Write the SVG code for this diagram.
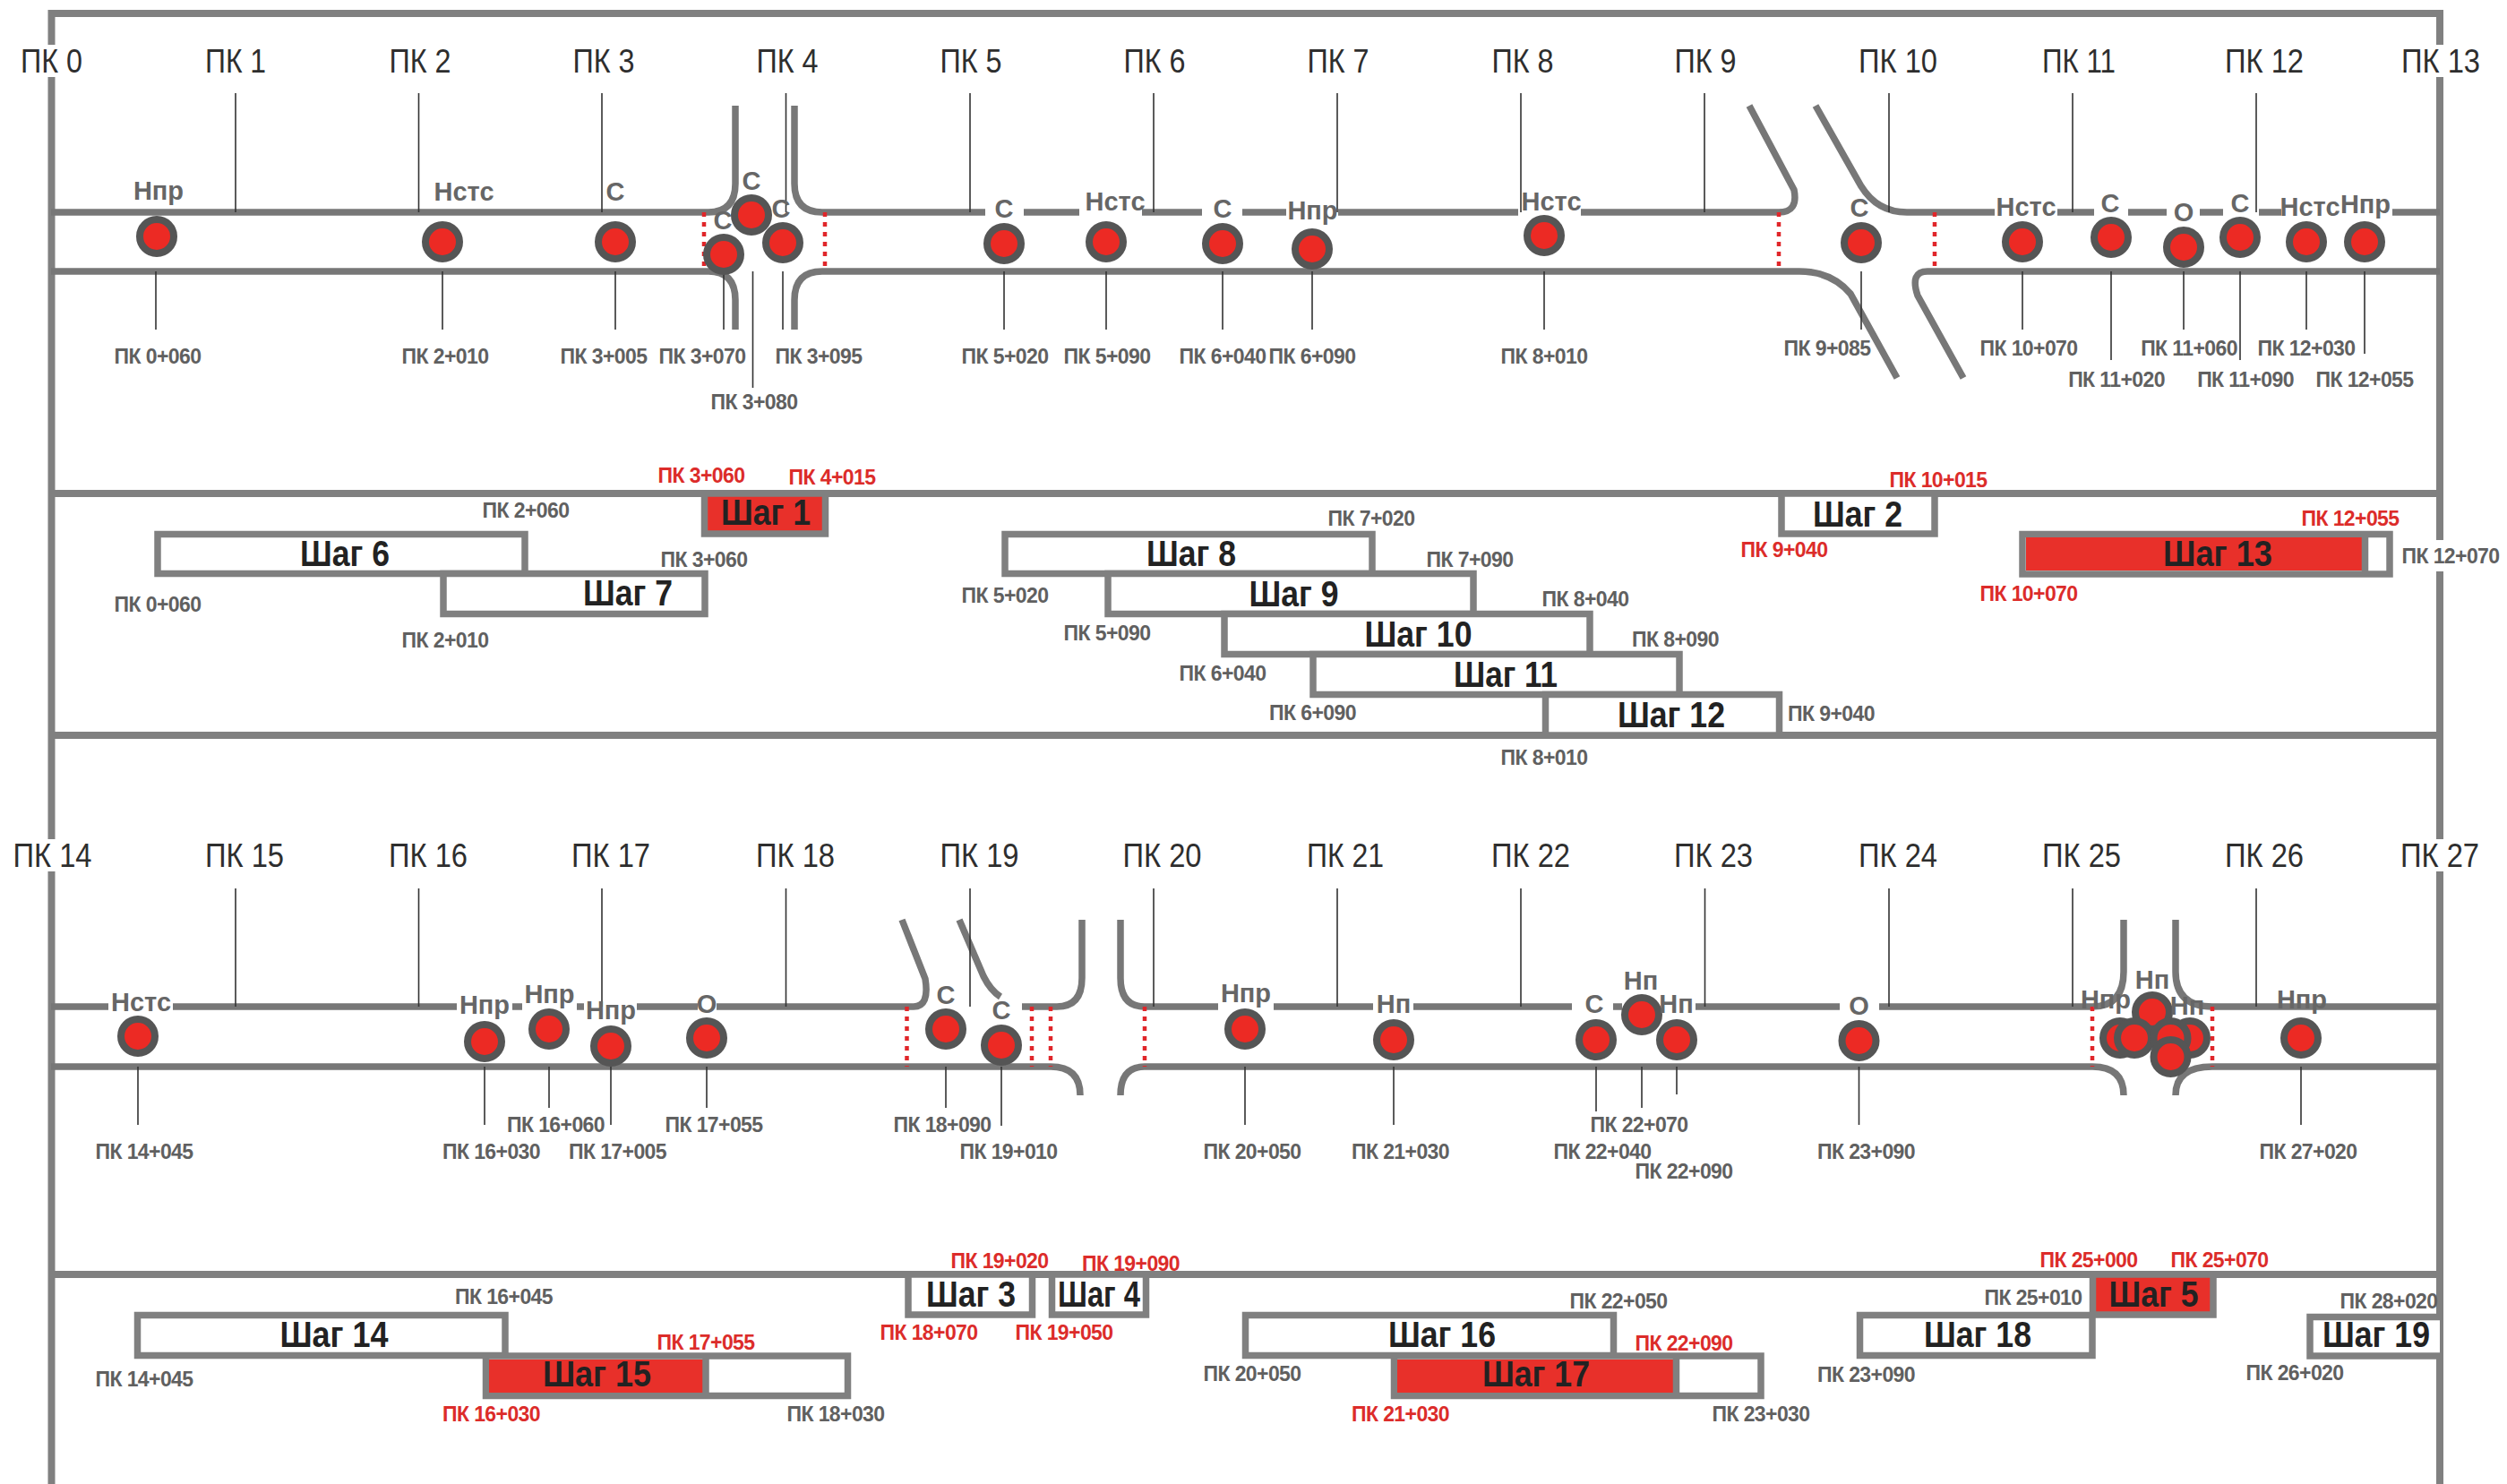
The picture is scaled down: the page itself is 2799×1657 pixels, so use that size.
<svg xmlns="http://www.w3.org/2000/svg" width="2799" height="1657" viewBox="0 0 2799 1657">
<style>
text{font-family:"Liberation Sans",Arial,sans-serif;text-anchor:middle}
.pk{font-size:36px;fill:#2e2e2e}
.sm{font-size:23px;letter-spacing:-.6px;font-weight:700;fill:#606060}
.re{font-size:23px;letter-spacing:-.6px;font-weight:700;fill:#dc2c2a}
.la{font-size:29px;font-weight:700;fill:#666}
.st{font-size:40px;font-weight:700;fill:#222}
.road{fill:none;stroke:#777;stroke-width:7.5}
.frame{fill:none;stroke:#808080;stroke-width:8}
.tick{stroke:#333;stroke-width:1.6;fill:none}
.dash{stroke:#e0262a;stroke-width:4.5;stroke-dasharray:5 6;fill:none}
.dot{fill:#ec2a24;stroke:#555;stroke-width:8}
.box{fill:#fff;stroke:#808080;stroke-width:7.5}
.red{fill:#e8302a;stroke:#808080;stroke-width:7.5}
.rf{fill:#e8302a}
.div{stroke:#808080;stroke-width:7.5}
</style>
<rect width="2799" height="1657" fill="#fff"/>
<g id="frame">
<path class="frame" d="M57.5 50V15H2724V50M57.5 86V937M57.5 973V1657M2724 86V603M2724 638V937M2724 973V1657M57 551H2724M57 821H2724M57 1423H2724"/>
</g>
<g id="connectors">
<g id="roads">
<path class="road" d="M57 237H791Q821 237 821 205V118M887 118V205Q887 237 918 237H1100M1143 237H1205M1275 237H1342M1387 237H1436M1494 237H1695M1765 237H1986Q2008 237 2003 212L1953 118M2027 118L2078 208Q2096 237 2129 237H2227M2297 237H2338M2376 237H2419M2456 237H2482M2522 237H2547M2671 237H2724"/>
<path class="road" d="M57 303H791Q821 303 821 335V368M887 368V335Q887 303 918 303H2009Q2045 303 2066 328L2118 422M2192 422L2141 330Q2132 303 2152 303H2724"/>
<path class="road" d="M57 1124H121M193 1124H510M572 1124H583M644 1124H652M711 1124H779M800 1124H1020Q1038 1124 1033 1093L1007 1027M1071 1027L1098 1090Q1106 1106 1117 1113M1141 1124H1180Q1208 1124 1208 1092V1027M1251 1027V1092Q1251 1124 1278 1124H1360M1422 1124H1533M1578 1124H1755M1801 1124H1811M1893 1124H2054M2098 1124H2336Q2371 1124 2371 1085V1027M2429 1027V1085Q2429 1124 2470 1124H2724"/>
<path class="road" d="M57 1191H1173Q1206 1191 1206 1223M1251 1223Q1251 1191 1278 1191H2336Q2371 1191 2371 1223M2429 1223Q2429 1191 2470 1191H2724"/>
</g>
<g id="ticks">
<path class="tick" d="M263 104V237M467.500 104V237M672 104V237M877.500 104V237M1083 104V237M1288 104V237M1493 104V237M1698 104V237M1903 104V237M2109 104V237M2314 104V237M2519 104V237"/>
<path class="tick" d="M263 992V1124M467.500 992V1124M672 992V1124M877.500 992V1124M1083 992V1124M1288 992V1124M1493 992V1124M1698 992V1124M1903.500 992V1124M2109 992V1124M2314 992V1124M2519 992V1124"/>
<path class="tick" d="M174 303V368M494 303V368M687 303V368M808 303V368M840.500 303V433M874 303V368M1121 303V368M1235 303V368M1365 303V368M1465 303V368M1724 303V368M2078 303V368M2258 303V368M2357 303V402M2438 303V368M2501 303V402M2575 303V368M2640 303V395"/>
<path class="tick" d="M154 1191V1256M541 1191V1256M613 1191V1237M682 1191V1256M789 1191V1237M1056 1191V1237M1118 1191V1257M1390 1191V1256M1556 1191V1256M1782 1191V1241M1833 1191V1237M1872 1191V1222M2075.500 1191V1256M2569 1191V1256"/>
</g>
<g id="limits">
<path class="dash" d="M786 237V303M921 237V303M1986 237V303M2160 237V303M1012.500 1124V1191M1152 1124V1191M1173 1124V1191M1278 1124V1191M2336 1124V1191M2470 1124V1191"/>
</g>
</g>
<g id="pk-labels" class="pk">
<text class="pk" x="57.500" y="81" textLength="69" lengthAdjust="spacingAndGlyphs">ПК 0</text>
<text class="pk" x="263" y="81" textLength="68" lengthAdjust="spacingAndGlyphs">ПК 1</text>
<text class="pk" x="469" y="81" textLength="69" lengthAdjust="spacingAndGlyphs">ПК 2</text>
<text class="pk" x="674" y="81" textLength="69" lengthAdjust="spacingAndGlyphs">ПК 3</text>
<text class="pk" x="879" y="81" textLength="69" lengthAdjust="spacingAndGlyphs">ПК 4</text>
<text class="pk" x="1084" y="81" textLength="69" lengthAdjust="spacingAndGlyphs">ПК 5</text>
<text class="pk" x="1289" y="81" textLength="69" lengthAdjust="spacingAndGlyphs">ПК 6</text>
<text class="pk" x="1494" y="81" textLength="69" lengthAdjust="spacingAndGlyphs">ПК 7</text>
<text class="pk" x="1700" y="81" textLength="69" lengthAdjust="spacingAndGlyphs">ПК 8</text>
<text class="pk" x="1904" y="81" textLength="69" lengthAdjust="spacingAndGlyphs">ПК 9</text>
<text class="pk" x="2119" y="81" textLength="88" lengthAdjust="spacingAndGlyphs">ПК 10</text>
<text class="pk" x="2321" y="81" textLength="82" lengthAdjust="spacingAndGlyphs">ПК 11</text>
<text class="pk" x="2528" y="81" textLength="88" lengthAdjust="spacingAndGlyphs">ПК 12</text>
<text class="pk" x="2725" y="81" textLength="88" lengthAdjust="spacingAndGlyphs">ПК 13</text>
<text class="pk" x="58.500" y="968" textLength="88" lengthAdjust="spacingAndGlyphs">ПК 14</text>
<text class="pk" x="273" y="968" textLength="88" lengthAdjust="spacingAndGlyphs">ПК 15</text>
<text class="pk" x="478" y="968" textLength="88" lengthAdjust="spacingAndGlyphs">ПК 16</text>
<text class="pk" x="682" y="968" textLength="88" lengthAdjust="spacingAndGlyphs">ПК 17</text>
<text class="pk" x="888" y="968" textLength="88" lengthAdjust="spacingAndGlyphs">ПК 18</text>
<text class="pk" x="1093.500" y="968" textLength="88" lengthAdjust="spacingAndGlyphs">ПК 19</text>
<text class="pk" x="1297.500" y="968" textLength="88" lengthAdjust="spacingAndGlyphs">ПК 20</text>
<text class="pk" x="1502" y="968" textLength="86" lengthAdjust="spacingAndGlyphs">ПК 21</text>
<text class="pk" x="1709" y="968" textLength="88" lengthAdjust="spacingAndGlyphs">ПК 22</text>
<text class="pk" x="1913" y="968" textLength="88" lengthAdjust="spacingAndGlyphs">ПК 23</text>
<text class="pk" x="2119" y="968" textLength="88" lengthAdjust="spacingAndGlyphs">ПК 24</text>
<text class="pk" x="2324" y="968" textLength="88" lengthAdjust="spacingAndGlyphs">ПК 25</text>
<text class="pk" x="2528" y="968" textLength="88" lengthAdjust="spacingAndGlyphs">ПК 26</text>
<text class="pk" x="2724" y="968" textLength="88" lengthAdjust="spacingAndGlyphs">ПК 27</text>
</g>
<g id="p1"><circle class="dot" cx="175" cy="264" r="19"/><text class="la" x="177" y="223">Нпр</text><text class="sm" x="176" y="406">ПК 0+060</text></g>
<g id="p2"><circle class="dot" cx="494" cy="270" r="19"/><text class="la" x="518" y="224">Нстс</text><text class="sm" x="497" y="406">ПК 2+010</text></g>
<g id="p3"><circle class="dot" cx="687" cy="270" r="19"/><text class="la" x="687" y="224">С</text><text class="sm" x="674" y="406">ПК 3+005</text></g>
<g id="p4"><circle class="dot" cx="808" cy="284" r="19"/><text class="la" x="807" y="256">С</text><text class="sm" x="784" y="406">ПК 3+070</text></g>
<g id="p5"><circle class="dot" cx="839" cy="240" r="19"/><text class="la" x="839" y="212">С</text><text class="sm" x="842" y="457">ПК 3+080</text></g>
<g id="p6"><text class="la" x="872" y="243">С</text><circle class="dot" cx="874" cy="271" r="19"/><text class="sm" x="914" y="406">ПК 3+095</text></g>
<g id="p7"><circle class="dot" cx="1121" cy="272" r="19"/><text class="la" x="1121" y="243">С</text><text class="sm" x="1122" y="406">ПК 5+020</text></g>
<g id="p8"><circle class="dot" cx="1235" cy="270" r="19"/><text class="la" x="1245" y="235">Нстс</text><text class="sm" x="1236" y="406">ПК 5+090</text></g>
<g id="p9"><circle class="dot" cx="1365" cy="272" r="19"/><text class="la" x="1365" y="243">С</text><text class="sm" x="1365" y="406">ПК 6+040</text></g>
<g id="p10"><circle class="dot" cx="1465" cy="278" r="19"/><text class="la" x="1465.500" y="245">Нпр</text><text class="sm" x="1465" y="406">ПК 6+090</text></g>
<g id="p11"><circle class="dot" cx="1724" cy="263" r="19"/><text class="la" x="1732" y="235">Нстс</text><text class="sm" x="1724" y="406">ПК 8+010</text></g>
<g id="p12"><circle class="dot" cx="2078" cy="271" r="19"/><text class="la" x="2076" y="242">С</text><text class="sm" x="2040" y="397">ПК 9+085</text></g>
<g id="p13"><circle class="dot" cx="2258" cy="270" r="19"/><text class="la" x="2262" y="241">Нстс</text><text class="sm" x="2265" y="397">ПК 10+070</text></g>
<g id="p14"><circle class="dot" cx="2357" cy="265" r="19"/><text class="la" x="2356" y="237">С</text><text class="sm" x="2363" y="432">ПК 11+020</text></g>
<g id="p15"><circle class="dot" cx="2438" cy="276" r="19"/><text class="la" x="2438" y="247">О</text><text class="sm" x="2444" y="397">ПК 11+060</text></g>
<g id="p16"><circle class="dot" cx="2501" cy="265" r="19"/><text class="la" x="2501" y="237">С</text><text class="sm" x="2507" y="432">ПК 11+090</text></g>
<g id="p17"><circle class="dot" cx="2575" cy="270" r="19"/><text class="la" x="2579" y="241">Нстс</text><text class="sm" x="2575" y="397">ПК 12+030</text></g>
<g id="p18"><circle class="dot" cx="2640" cy="270" r="19"/><text class="la" x="2641" y="238">Нпр</text><text class="sm" x="2640" y="432">ПК 12+055</text></g>
<g id="s1"><rect class="red" x="786.500" y="551" width="135" height="45"/><text class="st" x="855" y="586" textLength="100" lengthAdjust="spacingAndGlyphs">Шаг 1</text></g>
<g id="s6"><rect class="box" x="176" y="596.500" width="410" height="44"/><text class="st" x="385" y="632" textLength="100" lengthAdjust="spacingAndGlyphs">Шаг 6</text></g>
<g id="s7"><rect class="box" x="495" y="640.500" width="292" height="45"/><text class="st" x="701" y="676" textLength="100" lengthAdjust="spacingAndGlyphs">Шаг 7</text></g>
<g id="s8"><rect class="box" x="1122" y="596.500" width="410" height="44"/><text class="st" x="1330" y="632" textLength="100" lengthAdjust="spacingAndGlyphs">Шаг 8</text></g>
<g id="s9"><rect class="box" x="1237" y="640.500" width="408" height="45"/><text class="st" x="1444.500" y="677" textLength="100" lengthAdjust="spacingAndGlyphs">Шаг 9</text></g>
<g id="s10"><rect class="box" x="1367" y="685.500" width="408" height="45"/><text class="st" x="1583.500" y="722" textLength="120" lengthAdjust="spacingAndGlyphs">Шаг 10</text></g>
<g id="s11"><rect class="box" x="1466" y="730.500" width="409" height="45"/><text class="st" x="1681" y="767" textLength="116" lengthAdjust="spacingAndGlyphs">Шаг 11</text></g>
<g id="s12"><rect class="box" x="1725.500" y="775.500" width="261" height="45.500"/><text class="st" x="1866" y="812" textLength="120" lengthAdjust="spacingAndGlyphs">Шаг 12</text></g>
<g id="s2"><rect class="box" x="1989" y="551" width="171" height="45"/><text class="st" x="2074" y="588" textLength="100" lengthAdjust="spacingAndGlyphs">Шаг 2</text></g>
<g id="s13"><rect class="box" x="2258" y="596.500" width="410" height="44.500"/><rect class="rf" x="2262" y="600" width="375" height="37"/><path class="div" d="M2640.500 597V641"/><text class="st" x="2476" y="632" textLength="122" lengthAdjust="spacingAndGlyphs">Шаг 13</text></g>
<g id="panel1-labels">
<text class="re" x="783" y="539">ПК 3+060</text><text class="re" x="929" y="541">ПК 4+015</text>
<text class="sm" x="587" y="578">ПК 2+060</text><text class="sm" x="786" y="633">ПК 3+060</text>
<text class="sm" x="176" y="683">ПК 0+060</text><text class="sm" x="497" y="723">ПК 2+010</text>
<text class="sm" x="1531" y="587">ПК 7+020</text><text class="sm" x="1641" y="633">ПК 7+090</text>
<text class="sm" x="1122" y="673">ПК 5+020</text><text class="sm" x="1770" y="677">ПК 8+040</text>
<text class="sm" x="1236" y="715">ПК 5+090</text><text class="sm" x="1870.500" y="722">ПК 8+090</text>
<text class="sm" x="1365" y="760">ПК 6+040</text><text class="sm" x="1465.500" y="804">ПК 6+090</text>
<text class="sm" x="1724" y="854">ПК 8+010</text><text class="sm" x="2044.500" y="805">ПК 9+040</text>
<text class="re" x="2164" y="544">ПК 10+015</text><text class="re" x="1992" y="622">ПК 9+040</text>
<text class="re" x="2624" y="587">ПК 12+055</text><text class="re" x="2265" y="671">ПК 10+070</text>
<text class="sm" x="2736" y="629">ПК 12+070</text>
</g>
<g id="q1"><circle class="dot" cx="154" cy="1157" r="19"/><text class="la" x="157.500" y="1129">Нстс</text><text class="sm" x="161" y="1294">ПК 14+045</text></g>
<g id="q2"><circle class="dot" cx="541" cy="1163" r="19"/><text class="la" x="541" y="1132">Нпр</text><text class="sm" x="548.500" y="1294">ПК 16+030</text></g>
<g id="q3"><circle class="dot" cx="613" cy="1149" r="19"/><text class="la" x="613.500" y="1120">Нпр</text><text class="sm" x="620.500" y="1264">ПК 16+060</text></g>
<g id="q4"><circle class="dot" cx="682" cy="1168" r="19"/><text class="la" x="682" y="1138">Нпр</text><text class="sm" x="689.500" y="1294">ПК 17+005</text></g>
<g id="q5"><circle class="dot" cx="789" cy="1159" r="19"/><text class="la" x="789" y="1131">О</text><text class="sm" x="797" y="1264">ПК 17+055</text></g>
<g id="q6"><circle class="dot" cx="1056" cy="1149" r="19"/><text class="la" x="1056" y="1121">С</text><text class="sm" x="1052" y="1264">ПК 18+090</text></g>
<g id="q7"><circle class="dot" cx="1118" cy="1167" r="19"/><text class="la" x="1118" y="1138">С</text><text class="sm" x="1126" y="1294">ПК 19+010</text></g>
<g id="q8"><circle class="dot" cx="1390" cy="1149" r="19"/><text class="la" x="1391" y="1119">Нпр</text><text class="sm" x="1398" y="1294">ПК 20+050</text></g>
<g id="q9"><circle class="dot" cx="1556" cy="1161" r="19"/><text class="la" x="1556" y="1131">Нп</text><text class="sm" x="1563.500" y="1294">ПК 21+030</text></g>
<g id="q10"><circle class="dot" cx="1782" cy="1161" r="19"/><text class="la" x="1780" y="1131">С</text><text class="sm" x="1789" y="1294">ПК 22+040</text></g>
<g id="q11"><circle class="dot" cx="1833" cy="1133" r="19"/><text class="la" x="1832" y="1105">Нп</text><text class="sm" x="1830" y="1264">ПК 22+070</text></g>
<g id="q12"><circle class="dot" cx="1872" cy="1161" r="19"/><text class="la" x="1871.500" y="1131">Нп</text><text class="sm" x="1880" y="1316">ПК 22+090</text></g>
<g id="q13"><circle class="dot" cx="2075.500" cy="1162" r="19"/><text class="la" x="2075.500" y="1133">О</text><text class="sm" x="2083.500" y="1294">ПК 23+090</text></g>
<g id="q14"><circle class="dot" cx="2403" cy="1130" r="19"/><text class="la" x="2403" y="1104">Нп</text></g>
<g id="q15"><circle class="dot" cx="2445" cy="1159" r="19"/><text class="la" x="2442" y="1133">Нп</text></g>
<g id="q16"><circle class="dot" cx="2367" cy="1159" r="19"/><text class="la" x="2351" y="1126">Нпр</text></g>
<g id="q17"><circle class="dot" cx="2383" cy="1159" r="19"/></g>
<g id="q18"><circle class="dot" cx="2423.500" cy="1159" r="19"/></g>
<g id="q19"><circle class="dot" cx="2423.500" cy="1180" r="19"/></g>
<g id="q20"><circle class="dot" cx="2569" cy="1159" r="19"/><text class="la" x="2570" y="1126">Нпр</text><text class="sm" x="2577" y="1294">ПК 27+020</text></g>
<g id="s14"><rect class="box" x="153.500" y="1468.500" width="410.500" height="45"/><text class="st" x="373" y="1504" textLength="121" lengthAdjust="spacingAndGlyphs">Шаг 14</text></g>
<g id="s15"><rect class="box" x="542.500" y="1514" width="404" height="44.500"/><rect class="rf" x="546" y="1518" width="239" height="37"/><path class="div" d="M788 1514V1558"/><text class="st" x="666.500" y="1548" textLength="121" lengthAdjust="spacingAndGlyphs">Шаг 15</text></g>
<g id="s3"><rect class="box" x="1014" y="1423" width="138.500" height="45"/><text class="st" x="1084" y="1459" textLength="100" lengthAdjust="spacingAndGlyphs">Шаг 3</text></g>
<g id="s4"><rect class="box" x="1174.500" y="1423" width="105" height="45"/><text class="st" x="1227" y="1459" textLength="92" lengthAdjust="spacingAndGlyphs">Шаг 4</text></g>
<g id="s16"><rect class="box" x="1390.500" y="1468.500" width="411" height="45"/><text class="st" x="1610" y="1504" textLength="120" lengthAdjust="spacingAndGlyphs">Шаг 16</text></g>
<g id="s17"><rect class="box" x="1556.500" y="1514" width="409.500" height="44.500"/><rect class="rf" x="1560" y="1518" width="308" height="37"/><path class="div" d="M1871.500 1514V1558"/><text class="st" x="1715" y="1548" textLength="120" lengthAdjust="spacingAndGlyphs">Шаг 17</text></g>
<g id="s18"><rect class="box" x="2076.500" y="1468.500" width="259.500" height="45"/><text class="st" x="2208" y="1504" textLength="120" lengthAdjust="spacingAndGlyphs">Шаг 18</text></g>
<g id="s5"><rect class="red" x="2336.500" y="1423" width="134.500" height="45"/><text class="st" x="2404.500" y="1459" textLength="100" lengthAdjust="spacingAndGlyphs">Шаг 5</text></g>
<g id="s19"><path class="box" d="M2724 1470.500H2579V1514H2724"/><text class="st" x="2653" y="1504" textLength="120" lengthAdjust="spacingAndGlyphs">Шаг 19</text></g>
<g id="panel2-labels">
<text class="sm" x="562.500" y="1456">ПК 16+045</text><text class="sm" x="161" y="1548">ПК 14+045</text>
<text class="re" x="788" y="1507">ПК 17+055</text><text class="re" x="548.500" y="1587">ПК 16+030</text>
<text class="sm" x="933" y="1587">ПК 18+030</text>
<text class="re" x="1116" y="1416">ПК 19+020</text><text class="re" x="1262.500" y="1419">ПК 19+090</text>
<text class="re" x="1037" y="1496">ПК 18+070</text><text class="re" x="1188" y="1496">ПК 19+050</text>
<text class="sm" x="1807" y="1461">ПК 22+050</text><text class="sm" x="1398" y="1542">ПК 20+050</text>
<text class="re" x="1880" y="1508">ПК 22+090</text><text class="re" x="1563.500" y="1587">ПК 21+030</text>
<text class="sm" x="1966" y="1587">ПК 23+030</text>
<text class="re" x="2332" y="1415">ПК 25+000</text><text class="re" x="2478" y="1415">ПК 25+070</text>
<text class="sm" x="2270" y="1457">ПК 25+010</text><text class="sm" x="2083.500" y="1543">ПК 23+090</text>
<text class="sm" x="2667" y="1461">ПК 28+020</text><text class="sm" x="2562" y="1541">ПК 26+020</text>
</g>
</svg>
